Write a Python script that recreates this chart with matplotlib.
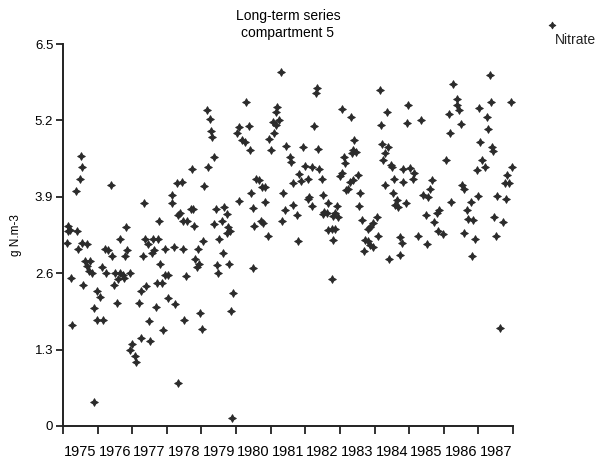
import numpy as np
import matplotlib.pyplot as plt
from matplotlib.lines import Line2D

plt.rcParams['font.family'] = ['Liberation Sans', 'DejaVu Sans']

# decimal year of each sample
years = [
    1975.51, 1975.54, 1975.48, 1975.37, 1976.39, 1975.15, 1975.20, 1975.14, 1975.40, 1975.11,
    1975.42, 1975.56, 1975.70, 1975.64, 1975.78, 1975.68, 1975.76, 1975.83, 1975.23, 1975.59,
    1976.14, 1976.24, 1976.21, 1976.31, 1976.42, 1976.65, 1976.82, 1977.34, 1976.84, 1976.79,
    1976.50, 1976.65, 1976.74, 1976.60, 1976.77, 1976.94, 1976.47, 1975.99, 1976.07, 1975.90,
    1975.97, 1976.15, 1975.27, 1976.55, 1975.90, 1976.98, 1976.94, 1977.08, 1977.10, 1977.25,
    1977.51, 1977.48, 1977.90, 1977.20, 1977.24, 1977.41, 1977.68, 1978.02, 1977.71, 1977.85,
    1977.95, 1978.02, 1977.80, 1977.32, 1977.58, 1977.64, 1977.37, 1977.46, 1977.61, 1977.75,
    1977.95, 1977.77,
    1981.29, 1979.15, 1979.25, 1979.27, 1979.31, 1979.35, 1979.20, 1978.72, 1979.08, 1978.28,
    1978.43, 1978.14, 1980.30, 1980.09, 1980.02, 1980.16, 1980.26, 1980.37, 1980.40, 1981.17,
    1981.15, 1981.25, 1981.08, 1981.15, 1981.10, 1980.96, 1981.00, 1981.43, 1981.56, 1981.58,
    1980.58, 1980.67, 1980.74, 1980.84, 1980.43, 1980.09, 1980.84, 1980.48, 1981.36, 1981.64,
    1981.65, 1981.41, 1980.71, 1980.79, 1980.52, 1980.91, 1981.32, 1980.48, 1979.41, 1979.66,
    1979.75, 1979.59, 1979.36, 1979.78, 1979.82, 1979.73, 1979.52, 1978.69, 1978.76, 1978.33,
    1978.38, 1978.48, 1978.59, 1978.78, 1978.14, 1979.05, 1978.89, 1978.21, 1978.48, 1978.81,
    1978.86, 1978.94, 1978.55, 1979.61, 1979.44, 1979.47, 1979.80, 1979.92, 1979.84, 1978.96,
    1979.01, 1978.24, 1978.50, 1978.33, 1979.87,
    1982.33, 1982.30, 1984.16, 1983.05, 1983.31, 1984.37, 1982.26, 1984.19, 1983.42, 1981.94,
    1982.38, 1984.21, 1984.40, 1983.39, 1983.46, 1983.34, 1983.13, 1983.15, 1984.30, 1984.25,
    1984.48, 1984.51, 1984.83, 1981.99, 1982.20, 1982.40, 1981.82, 1983.05, 1983.00, 1983.51,
    1981.88, 1982.09, 1982.47, 1983.29, 1983.39, 1984.57, 1984.30, 1983.18, 1983.23, 1984.83,
    1983.58, 1982.52, 1982.11, 1982.07, 1982.19, 1982.67, 1982.91, 1983.55, 1984.54, 1984.64,
    1984.59, 1984.69, 1982.55, 1982.62, 1982.52, 1982.86, 1982.81, 1982.95, 1981.75, 1983.63,
    1984.06, 1983.96, 1983.87, 1982.76, 1982.65, 1982.86, 1983.80, 1984.11, 1983.72, 1983.82,
    1983.87, 1983.96, 1984.74, 1984.79, 1981.78, 1982.79, 1983.70, 1984.43, 1984.74, 1982.76,
    1987.34, 1986.28, 1984.98, 1986.37, 1986.39, 1986.45, 1986.16, 1987.03, 1987.36, 1987.94,
    1987.26, 1984.95, 1985.33, 1986.49, 1986.18, 1987.27, 1987.05, 1987.39, 1987.43, 1986.07,
    1987.10, 1987.19, 1986.95, 1987.96, 1985.03, 1985.14, 1985.10, 1985.67, 1985.60, 1987.82,
    1987.77, 1987.87, 1986.52, 1986.57, 1985.39, 1985.55, 1984.91, 1986.21, 1986.98, 1986.79,
    1987.55, 1987.80, 1986.66, 1985.87, 1985.80, 1985.49, 1986.71, 1986.85, 1987.46, 1987.70,
    1985.72, 1985.84, 1985.97, 1986.57, 1985.25, 1986.90, 1987.50, 1985.53, 1986.81, 1987.61,
]

# nitrate, g N.m-3
nitrate = [
    4.59, 4.40, 4.20, 4.00, 4.10, 3.40, 3.34, 3.31, 3.31, 3.11,
    3.01, 3.11, 3.10, 2.81, 2.81, 2.72, 2.63, 2.60, 2.51, 2.40,
    2.70, 2.60, 3.01, 2.99, 2.90, 3.19, 3.39, 3.80, 2.99, 2.89,
    2.60, 2.60, 2.57, 2.50, 2.51, 2.60, 2.40, 2.30, 2.20, 2.00,
    1.80, 1.80, 1.72, 2.10, 0.40, 1.40, 1.29, 1.19, 1.09, 1.49,
    1.45, 1.79, 1.63, 2.10, 2.30, 2.39, 2.03, 2.17, 2.44, 2.44,
    2.57, 2.57, 2.76, 2.89, 2.94, 2.99, 3.19, 3.10, 3.18, 3.19,
    3.02, 3.49,
    6.03, 5.37, 5.22, 5.02, 4.92, 4.57, 4.41, 4.37, 4.08, 4.13,
    4.15, 3.93, 5.51, 5.08, 4.98, 4.87, 4.84, 5.11, 4.70, 5.43,
    5.35, 5.21, 5.18, 5.12, 4.98, 4.88, 4.70, 4.76, 4.58, 4.50,
    4.21, 4.19, 4.07, 4.07, 3.96, 3.83, 3.81, 3.71, 3.97, 4.13,
    3.76, 3.68, 3.49, 3.45, 3.41, 3.24, 3.48, 2.69, 3.70, 3.73,
    3.61, 3.48, 3.43, 3.39, 3.31, 3.28, 3.19, 3.70, 3.70, 3.59,
    3.62, 3.48, 3.49, 3.40, 3.79, 3.15, 3.02, 3.05, 3.01, 2.85,
    2.71, 2.76, 2.55, 2.95, 2.74, 2.61, 2.76, 2.26, 1.96, 1.93,
    1.65, 2.07, 1.80, 0.73, 0.14,
    5.76, 5.66, 5.72, 5.39, 5.25, 5.34, 5.10, 5.13, 4.87, 4.75,
    4.71, 4.80, 4.75, 4.70, 4.67, 4.64, 4.57, 4.47, 4.64, 4.53,
    4.44, 4.40, 4.37, 4.42, 4.40, 4.37, 4.29, 4.30, 4.26, 4.27,
    4.17, 4.21, 4.21, 4.16, 4.19, 4.21, 4.10, 4.02, 4.04, 4.16,
    3.97, 3.93, 3.90, 3.87, 3.74, 3.80, 3.75, 3.74, 3.96, 3.85,
    3.76, 3.73, 3.65, 3.62, 3.61, 3.62, 3.57, 3.56, 3.59, 3.51,
    3.55, 3.45, 3.39, 3.36, 3.34, 3.35, 3.36, 3.23, 3.17, 3.14,
    3.08, 3.05, 3.22, 3.11, 3.15, 3.17, 2.98, 2.84, 2.91, 2.50,
    5.97, 5.82, 5.46, 5.56, 5.46, 5.38, 5.31, 5.41, 5.51, 5.52,
    5.25, 5.15, 5.20, 5.14, 4.99, 5.05, 4.84, 4.74, 4.68, 4.53,
    4.53, 4.41, 4.36, 4.41, 4.39, 4.30, 4.21, 4.19, 4.04, 4.27,
    4.14, 4.14, 4.10, 4.04, 3.93, 3.90, 3.79, 3.82, 3.91, 3.81,
    3.92, 3.87, 3.68, 3.68, 3.62, 3.59, 3.52, 3.51, 3.55, 3.47,
    3.47, 3.31, 3.27, 3.29, 3.23, 3.18, 3.24, 3.10, 2.90, 1.67,
]

year_labels = [str(y) for y in range(1975, 1988)]
y_ticks = [0, 1.3, 2.6, 3.9, 5.2, 6.5]

fig = plt.figure(figsize=(5.97, 4.59), dpi=100)
ax = fig.add_axes([0.1055, 0.0719, 0.7538, 0.8322])

star = (4, 1, 0)
ax.scatter(years, nitrate, marker=star, s=30, color='#2b2b2b', linewidths=0.7,
           edgecolors='#2b2b2b', clip_on=False, zorder=3)

ax.set_xlim(1975, 1988)
ax.set_ylim(0, 6.5)

for side in ['top', 'right']:
    ax.spines[side].set_visible(False)
for side in ['left', 'bottom']:
    ax.spines[side].set_linewidth(1.4)
    ax.spines[side].set_color('#222222')

# ticks on year boundaries, labels in the middle of each year
ax.set_xticks(np.arange(1975, 1989))
ax.set_xticklabels([])
ax.set_xticks(np.arange(1975, 1988) + 0.5, minor=True)
ax.set_xticklabels(year_labels, minor=True, fontsize=10.5)
ax.tick_params(axis='x', which='major', direction='out', length=6, width=1.3, color='#222222')
ax.tick_params(axis='x', which='minor', length=0, pad=14)

ax.set_yticks(y_ticks)
ax.set_yticklabels(['0', '1.3', '2.6', '3.9', '5.2', '6.5'], fontsize=9.5)
ax.tick_params(axis='y', direction='out', length=5, width=1.3, color='#222222', pad=2)

ax.set_ylabel('g N.m-3', fontsize=8.5, labelpad=9)
ax.set_title('Long-term series\ncompartment 5', fontsize=10, pad=5, linespacing=1.25)

# legend drawn by hand, outside the axes
fig.add_artist(Line2D([0.9246], [0.9455], transform=fig.transFigure, marker=star,
                      markersize=5, color='#2b2b2b', markeredgewidth=0.6, linestyle='none'))
fig.text(0.93, 0.913, 'Nitrate', fontsize=10, ha='left', va='center', color='#222222')

fig.savefig('out.png', dpi=100)
